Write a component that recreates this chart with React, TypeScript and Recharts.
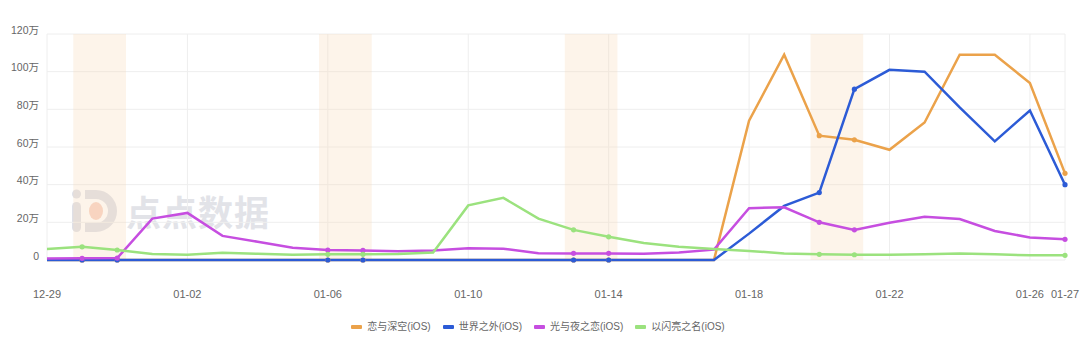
import React from 'react';
import { LineChart, Line, XAxis, YAxis, CartesianGrid, ReferenceArea } from 'recharts';

const dates = [
  '12-29', '12-30', '12-31', '01-01', '01-02', '01-03', '01-04', '01-05', '01-06', '01-07',
  '01-08', '01-09', '01-10', '01-11', '01-12', '01-13', '01-14', '01-15', '01-16', '01-17',
  '01-18', '01-19', '01-20', '01-21', '01-22', '01-23', '01-24', '01-25', '01-26', '01-27',
];

// values in 万
const lianYuShenKong = [
  0, 0, 0, 0, 0, 0, 0, 0, 0, 0,
  0, 0, 0, 0, 0, 0, 0, 0, 0, 0,
  74, 109, 66, 63.8, 58.5, 73, 109, 109, 94, 46,
];
const shiJieZhiWai = [
  0, 0, 0, 0, 0, 0, 0, 0, 0, 0,
  0, 0, 0, 0, 0, 0, 0, 0, 0, 0,
  14, 28.7, 35.8, 90.7, 101, 100, 81, 63, 79.4, 40,
];
const guangYuYeZhiLian = [
  0.8, 0.9, 1.0, 22, 25, 12.8, 9.7, 6.5, 5.3, 5.1,
  4.6, 5, 6.3, 6, 3.6, 3.5, 3.5, 3.3, 4, 5.5,
  27.5, 28, 20, 16, 19.8, 23, 21.8, 15.4, 12, 11,
];
const yiShanLiangZhiMing = [
  5.8, 7, 5.3, 3.2, 2.8, 3.9, 3.3, 2.8, 3, 3,
  3.2, 4, 29, 33, 22, 16, 12.3, 9, 7, 5.8,
  4.8, 3.5, 3, 2.8, 2.8, 3, 3.5, 3, 2.5, 2.5,
];

const seriesNames = ['恋与深空(iOS)', '世界之外(iOS)', '光与夜之恋(iOS)', '以闪亮之名(iOS)'];
const seriesColors = ['#EBA24A', '#2C5BD6', '#C64EE0', '#9BE27E'];
const seriesValues = [lianYuShenKong, shiJieZhiWai, guangYuYeZhiLian, yiShanLiangZhiMing];

const yTicks = [0, 20, 40, 60, 80, 100, 120];
const xTickIdx = [0, 4, 8, 12, 16, 20, 24, 28, 29];
const weekendPairs = [[1, 2], [8, 9], [15, 16], [22, 23]];
const markedIdx = [1, 2, 8, 9, 15, 16, 22, 23, 29];

const data = dates.map((d, i) => {
  const row: any = { x: i, date: d };
  seriesValues.forEach((arr, k) => {
    row['s' + k] = arr[i];
  });
  return row;
});

const FONT = '"Liberation Sans", "Noto Sans CJK SC", sans-serif';

const YTick = (props: any) => {
  const { x, y, payload } = props;
  const v = payload.value;
  return (
    <text x={x} y={y - 4} dy="0.355em" textAnchor="end" fill="#666666" fontSize={10.5} fontFamily={FONT}>
      {v === 0 ? '0' : v + '万'}
    </text>
  );
};

const XTick = (props: any) => {
  const { x, y, payload } = props;
  return (
    <text x={x} y={y + 34} dy="0.355em" textAnchor="middle" fill="#666666" fontSize={11} fontFamily={FONT}>
      {dates[payload.value]}
    </text>
  );
};

const makeDot = (color: string) => (props: any) => {
  const { cx, cy, index } = props;
  if (!markedIdx.includes(index)) return <g key={'n' + index} />;
  return <circle key={'d' + index} cx={cx} cy={cy} r={2.6} fill={color} stroke="none" />;
};

const Watermark = () => (
  <div style={{ position: 'absolute', left: 72, top: 188, display: 'flex', alignItems: 'center', pointerEvents: 'none' }}>
    <svg width={46} height={46} viewBox="0 0 46 46">
      <rect x={0} y={14} width={9} height={30} rx={4.5} fill="#DFE0E7" />
      <circle cx={4.5} cy={6} r={4.5} fill="#DFE0E7" />
      <path d="M13 6.5 H24 A16.5 16.5 0 0 1 24 39.5 H13" stroke="#DFE0E7" strokeWidth={9} fill="none" />
      <ellipse cx={24} cy={23} rx={7} ry={9} fill="#F8D2C3" />
    </svg>
    <div
      style={{
        marginLeft: 8,
        fontFamily: '"Noto Sans CJK SC", sans-serif',
        fontWeight: 700,
        fontSize: 35,
        letterSpacing: 1,
        color: '#E2E3E8',
        lineHeight: '40px',
      }}
    >
      点点数据
    </div>
  </div>
);

const LegendBar = () => (
  <div
    style={{
      position: 'absolute',
      left: 0,
      top: 318,
      width: 1076,
      display: 'flex',
      justifyContent: 'center',
      fontFamily: FONT,
      fontSize: 10,
      color: '#666666',
    }}
  >
    {seriesNames.map((n, i) => (
      <div key={n} style={{ display: 'flex', alignItems: 'center', marginRight: i < 3 ? 12 : 0 }}>
        <div style={{ width: 11, height: 4, borderRadius: 1, background: seriesColors[i], marginRight: 5 }} />
        <span style={{ lineHeight: '18px' }}>{n}</span>
      </div>
    ))}
  </div>
);

export default function App() {
  return (
    <div style={{ position: 'absolute', left: 0, top: 0, width: 1080, height: 347, background: '#fff', overflow: 'hidden' }}>
      <Watermark />
      <div style={{ position: 'absolute', left: 0, top: 0 }}>
        <LineChart width={1080} height={347} data={data} margin={{ top: 34, right: 15, left: 0, bottom: 0 }}>
          <CartesianGrid stroke="#EEEEEE" strokeWidth={1} />
          {weekendPairs.map(([a, b]) => (
            <ReferenceArea
              key={'w' + a}
              x1={a - 0.25}
              x2={b + 0.25}
              y1={0}
              y2={120}
              fill="#F9D9B8"
              fillOpacity={0.3}
              stroke="none"
              ifOverflow="visible"
            />
          ))}
          <XAxis
            dataKey="x"
            type="number"
            domain={[0, 29]}
            ticks={xTickIdx}
            interval={0}
            axisLine={false}
            tickLine={false}
            tickSize={0}
            tickMargin={0}
            height={87}
            tick={<XTick />}
          />
          <YAxis
            type="number"
            domain={[0, 120]}
            ticks={yTicks}
            interval={0}
            axisLine={false}
            tickLine={false}
            tickSize={0}
            tickMargin={8}
            width={47}
            tick={<YTick />}
          />
          {seriesNames.map((n, k) => (
            <Line
              key={n}
              name={n}
              type="linear"
              dataKey={'s' + k}
              stroke={seriesColors[k]}
              strokeWidth={2.5}
              dot={makeDot(seriesColors[k])}
              activeDot={false}
              isAnimationActive={false}
            />
          ))}
        </LineChart>
      </div>
      <LegendBar />
    </div>
  );
}
